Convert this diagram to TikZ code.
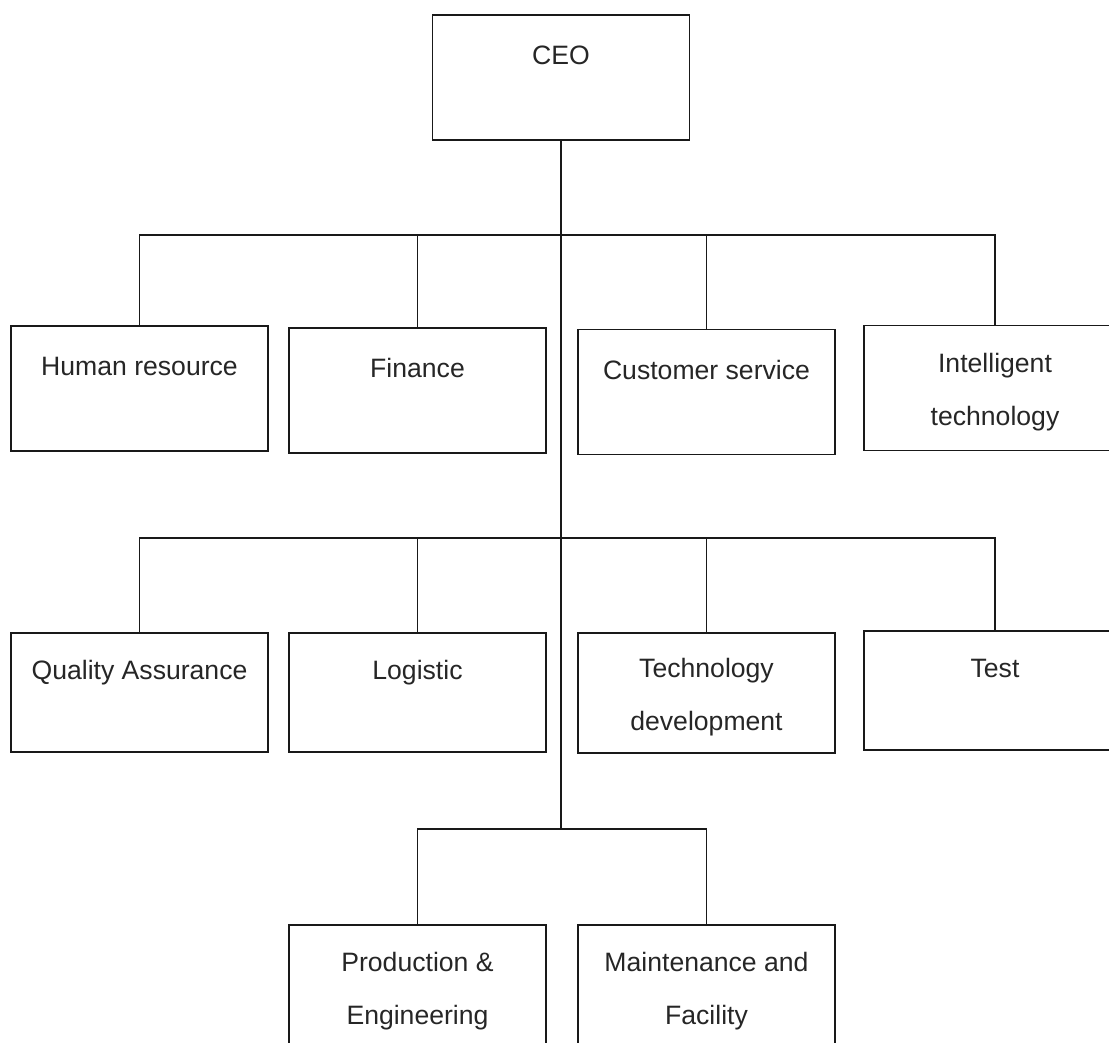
\documentclass[tikz,border=0pt]{standalone}
\usepackage{fontspec}
\setmainfont{Liberation Sans}
\usetikzlibrary{positioning}
\definecolor{boxline}{RGB}{25, 25, 25}
\newcommand{\toppad}{\rule{0pt}{27pt}}
\tikzset{
  unitbox/.style={draw=boxline, line width=1.4pt, minimum width=257pt, minimum height=125pt,
    align=center, inner sep=0pt, font=\fontsize{26.6}{53}\selectfont, text=black!85},
  link/.style={draw=boxline, line width=1.4pt}
}

\begin{document}
\begin{tikzpicture}[x=1pt, y=-1pt]
                    \useasboundingbox (0,0) rectangle (1109,1043);
                    \clip (0,0) rectangle (1109,1043);
                    \node[unitbox] (ceo) at (561,77.5) {\toppad CEO\\\mbox{}};
                    \node[unitbox] (hr) at (139.5,388.5) {\toppad Human resource\\\mbox{}};
                    \node[unitbox] (fin) at (417.5,390.5) {\toppad Finance\\\mbox{}};
                    \node[unitbox] (cs) at (706.5,392) {\toppad Customer service\\\mbox{}};
                    \node[unitbox, minimum width=262pt] (it) at (995,388) {\toppad Intelligent\\technology};
                    \node[unitbox, minimum height=119pt] (qa) at (139.5,692.5) {\toppad Quality Assurance\\\mbox{}};
                    \node[unitbox, minimum height=119pt] (log) at (417.5,692.5) {\toppad Logistic\\\mbox{}};
                    \node[unitbox, minimum height=120pt] (td) at (706.5,693) {\toppad Technology\\development};
                    \node[unitbox, minimum width=262pt, minimum height=119pt] (test) at (995,690.5) {\toppad Test\\\mbox{}};
                    \node[unitbox] (pe) at (417.5,987.5) {\toppad Production \&\\Engineering};
                    \node[unitbox] (mf) at (706.5,987.5) {\toppad Maintenance and\\Facility};
                    \coordinate (b1) at (561,235);
                    \coordinate (b2) at (561,538);
                    \coordinate (b3) at (561,829);
                    \draw[link] (ceo.south) -- (b3);
                    \draw[link] (hr.north) |- (b1) -| (it.north);
                    \draw[link] (fin.north) -- (fin.north |- b1);
                    \draw[link] (cs.north) -- (cs.north |- b1);
                    \draw[link] (qa.north) |- (b2) -| (test.north);
                    \draw[link] (log.north) -- (log.north |- b2);
                    \draw[link] (td.north) -- (td.north |- b2);
                    \draw[link] (pe.north) |- (b3) -| (mf.north);
                \end{tikzpicture}
\end{document}
